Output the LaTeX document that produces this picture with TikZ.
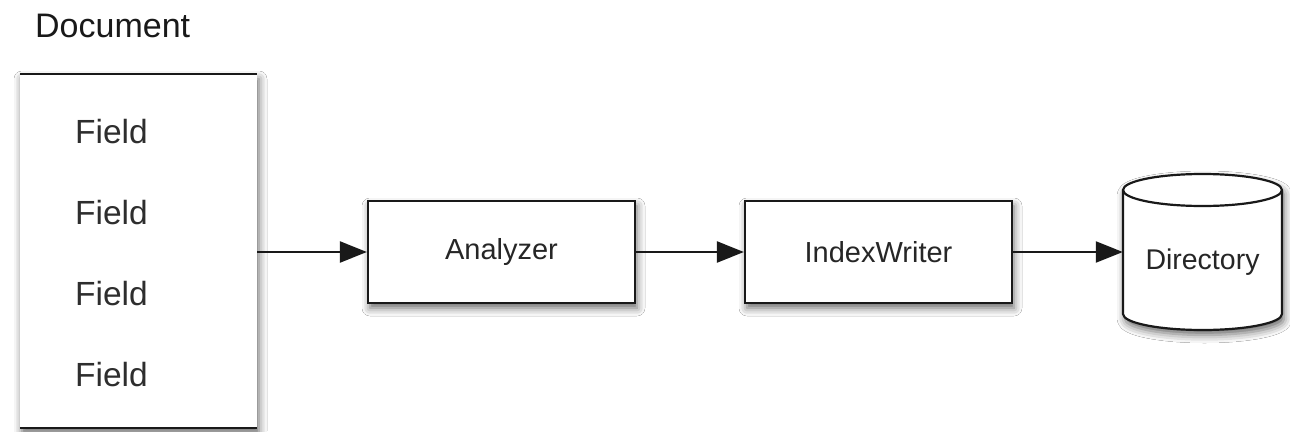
\documentclass[tikz,border=0pt]{standalone}
\usepackage{fontspec}
\setmainfont{Liberation Sans}
\usetikzlibrary{arrows.meta,shadows.blur}
\begin{document}
\begin{tikzpicture}[x=1pt,y=-1pt,
  shad/.style={blur shadow={shadow xshift=2pt, shadow yshift=-5pt, shadow blur radius=8pt, shadow opacity=60}},
  box/.style={draw=black!90, line width=2.2pt, fill=white, minimum width=267pt, minimum height=102pt, inner sep=0pt, font=\fontsize{29}{34}\selectfont, text=black!85, shad},
  docbox/.style={fill=white, minimum width=237pt, minimum height=354pt, inner sep=0pt, shad},
  conn/.style={line width=2.2pt, draw=black!90, -{Triangle[length=27pt,width=21pt]}},
  fieldtxt/.style={anchor=base west, inner sep=0pt, font=\fontsize{33.5}{40}\selectfont, text=black!82},
  doctitle/.style={anchor=base west, inner sep=0pt, font=\fontsize{34}{40}\selectfont, text=black!90},
  dirtxt/.style={inner sep=0pt, minimum width=159pt, minimum height=136pt, font=\fontsize{28.5}{34}\selectfont, text=black!85},
]
\useasboundingbox[fill=white] (0,0) rectangle (1290,431);

% Document
\node[doctitle] (title) at (35,37) {Document};
\node[docbox] (doc) at (138.5,251) {};
\draw[line width=2.5pt, black!90] (doc.north west) -- (doc.north east);
\draw[line width=2.5pt, black!90] (doc.south west) -- (doc.south east);
\node[fieldtxt] (f1) at (75,143) {Field};
\node[fieldtxt] (f2) at (75,224) {Field};
\node[fieldtxt] (f3) at (75,305) {Field};
\node[fieldtxt] (f4) at (75,386) {Field};

% Boxes
\node[box] (an) at (501.5,252) {Analyzer};
\node[box] (iw) at (878.5,252) {IndexWriter};

% Cylinder
\path[fill=white, draw=black!90, line width=2.2pt, shad]
  (1123,190) -- (1123,314)
  .. controls (1123,322.84) and (1158.6,330) .. (1202.5,330)
  .. controls (1246.4,330) and (1282,322.84) .. (1282,314)
  -- (1282,190)
  .. controls (1282,181.16) and (1246.4,174) .. (1202.5,174)
  .. controls (1158.6,174) and (1123,181.16) .. (1123,190) -- cycle;
\draw[black!90, line width=2.2pt]
  (1123,190) .. controls (1123,198.84) and (1158.6,206) .. (1202.5,206)
  .. controls (1246.4,206) and (1282,198.84) .. (1282,190);
\node[dirtxt] (dir) at (1202.5,262) {Directory};

% Connectors
\draw[conn] (an.west -| doc.east) -- (an.west);
\draw[conn] (an.east) -- (iw.west);
\draw[conn] (iw.east) -- (iw.east -| dir.west);
\end{tikzpicture}
\end{document}
